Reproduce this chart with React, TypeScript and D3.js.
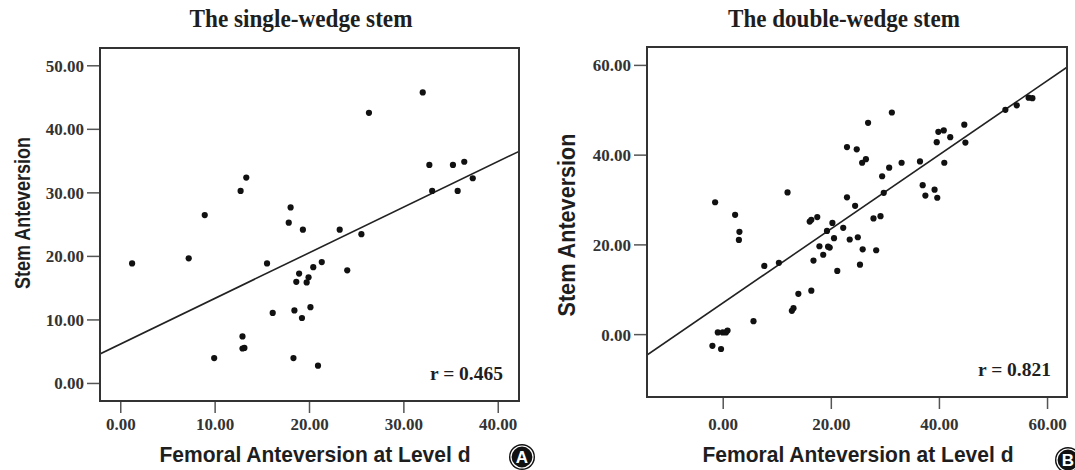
import React, { useEffect, useRef } from 'react';
import * as d3 from 'd3';

// single-wedge stem: femoral anteversion (x) vs stem anteversion (y)
const singleX = [1.2, 7.2, 8.9, 9.9, 12.7, 13.3, 12.9, 12.9, 13.1, 15.5, 16.1, 17.8, 18.0, 18.3, 18.4, 18.6, 18.9, 19.3, 19.2, 19.7, 19.9, 20.1, 20.4, 20.9, 21.3, 23.2, 24.0, 25.5, 26.3, 32.0, 32.7, 33.0, 35.2, 35.7, 36.4, 37.3];
const singleY = [18.9, 19.7, 26.5, 4.0, 30.3, 32.4, 7.4, 5.5, 5.6, 18.9, 11.1, 25.3, 27.7, 4.0, 11.5, 16.0, 17.3, 24.2, 10.3, 15.9, 16.7, 12.0, 18.3, 2.8, 19.1, 24.2, 17.8, 23.5, 42.6, 45.8, 34.4, 30.3, 34.4, 30.3, 34.9, 32.3];

// double-wedge stem
const doubleX = [-2.0, -0.4, -1.5, -1.0, -0.1, 0.5, 0.8, 2.2, 3.0, 2.9, 5.6, 7.6, 10.3, 11.9, 12.7, 13.0, 13.9, 16.0, 16.3, 16.3, 16.7, 17.4, 17.8, 18.5, 19.2, 19.4, 19.7, 20.2, 20.5, 21.1, 22.2, 22.9, 22.9, 23.4, 24.4, 24.7, 24.9, 25.3, 25.7, 26.4, 25.8, 26.8, 27.8, 28.3, 29.1, 29.4, 29.7, 30.7, 31.2, 33.0, 36.4, 36.9, 37.4, 39.1, 39.6, 39.5, 39.8, 40.8, 40.9, 42.0, 44.6, 44.8, 52.2, 54.3, 56.5, 57.2];
const doubleY = [-2.5, -3.2, 29.5, 0.5, 0.5, 0.5, 0.9, 26.7, 22.9, 21.1, 3.0, 15.3, 16.0, 31.7, 5.3, 5.9, 9.1, 25.2, 25.6, 9.8, 16.5, 26.2, 19.7, 17.8, 23.1, 19.6, 19.4, 24.9, 21.5, 14.2, 23.8, 41.8, 30.6, 21.2, 28.7, 41.3, 21.7, 15.6, 38.3, 39.1, 19.0, 47.2, 25.9, 18.8, 26.4, 35.3, 31.6, 37.2, 49.5, 38.3, 38.6, 33.3, 31.0, 32.3, 30.5, 42.9, 45.2, 45.5, 38.3, 44.0, 46.8, 42.8, 50.1, 51.1, 52.8, 52.7];

// fitted lines
const singleFit = [6.23, 0.718]; // intercept, slope
const doubleFit = [7.1, 0.8256];

const singleTicksX = [0, 10, 20, 30, 40];
const singleTicksY = [0, 10, 20, 30, 40, 50];
const doubleTicksX = [0, 20, 40, 60];
const doubleTicksY = [0, 20, 40, 60];

const titles = ['The single-wedge stem', 'The double-wedge stem'];
const rLabels = ['r = 0.465', 'r = 0.821'];
const xTitle = 'Femoral Anteversion at Level d';
const yTitle = 'Stem Anteversion';
const panelTags = ['A', 'B'];

const serif = '"Liberation Serif", "Times New Roman", serif';
const sans = '"Liberation Sans", Arial, sans-serif';
const ink = '#1e1e1e';

const panels = [
    {
        id: 'a', xs: singleX, ys: singleY, fit: singleFit,
        xDomain: [-2.2, 42.2], yDomain: [-2.76, 52.8],
        left: 100, right: 519, top: 48, bottom: 401,
        ticksX: singleTicksX, ticksY: singleTicksY,
        title: titles[0], titleX: 301, titleLen: 223, r: rLabels[0],
        yTitleX: 22, yTitleY: 213, yTitleSize: 22, yTitleLen: 152, xTitleX: 315,
        tag: panelTags[0], tagX: 522, tagY: 457,
    },
    {
        id: 'b', xs: doubleX, ys: doubleY, fit: doubleFit,
        xDomain: [-14.1, 63.6], yDomain: [-13.9, 64.1],
        left: 647, right: 1067, top: 47, bottom: 397,
        ticksX: doubleTicksX, ticksY: doubleTicksY,
        title: titles[1], titleX: 844, titleLen: 232, r: rLabels[1],
        yTitleX: 567, yTitleY: 225, yTitleSize: 23, yTitleLen: 183, xTitleX: 858,
        tag: panelTags[1], tagX: 1068, tagY: 460,
    },
];

const draw = (node) => {
    const svg = d3.select(node);
    svg.selectAll('*').remove();

    panels.forEach((p) => {
        const x = d3.scaleLinear().domain(p.xDomain).range([p.left, p.right]);
        const y = d3.scaleLinear().domain(p.yDomain).range([p.bottom, p.top]);
        const g = svg.append('g');

        g.append('clipPath').attr('id', 'clip-' + p.id)
            .append('rect')
            .attr('x', p.left).attr('y', p.top)
            .attr('width', p.right - p.left).attr('height', p.bottom - p.top);

        // title
        g.append('text')
            .attr('x', p.titleX).attr('y', 27)
            .attr('text-anchor', 'middle')
            .attr('font-family', serif).attr('font-weight', 'bold')
            .attr('font-size', 24.5).attr('fill', ink)
            .attr('textLength', p.titleLen).attr('lengthAdjust', 'spacingAndGlyphs')
            .text(p.title);

        // y axis ticks
        const yAxis = g.append('g');
        yAxis.selectAll('line').data(p.ticksY).enter().append('line')
            .attr('x1', p.left - 13).attr('x2', p.left)
            .attr('y1', d => y(d)).attr('y2', d => y(d))
            .attr('stroke', '#555').attr('stroke-width', 1.5);
        yAxis.selectAll('text').data(p.ticksY).enter().append('text')
            .attr('x', p.left - 16).attr('y', d => y(d))
            .attr('dy', '0.35em')
            .attr('text-anchor', 'end')
            .attr('font-family', serif).attr('font-weight', 'bold')
            .attr('font-size', 17).attr('fill', '#333')
            .text(d => d3.format('.2f')(d));

        // x axis ticks
        const xAxis = g.append('g');
        xAxis.selectAll('line').data(p.ticksX).enter().append('line')
            .attr('x1', d => x(d)).attr('x2', d => x(d))
            .attr('y1', p.bottom).attr('y2', p.bottom + 12)
            .attr('stroke', '#555').attr('stroke-width', 1.5);
        xAxis.selectAll('text').data(p.ticksX).enter().append('text')
            .attr('x', d => x(d)).attr('y', 430)
            .attr('text-anchor', 'middle')
            .attr('font-family', serif).attr('font-weight', 'bold')
            .attr('font-size', 17).attr('fill', '#333')
            .text(d => d3.format('.2f')(d));

        // axis titles
        g.append('text')
            .attr('transform', `translate(${p.yTitleX},${p.yTitleY}) rotate(-90)`)
            .attr('dy', '0.35em')
            .attr('text-anchor', 'middle')
            .attr('font-family', sans).attr('font-weight', 'bold')
            .attr('font-size', p.yTitleSize).attr('fill', ink)
            .attr('textLength', p.yTitleLen).attr('lengthAdjust', 'spacingAndGlyphs')
            .text(yTitle);
        g.append('text')
            .attr('x', p.xTitleX).attr('y', 462)
            .attr('text-anchor', 'middle')
            .attr('font-family', sans).attr('font-weight', 'bold')
            .attr('font-size', 22).attr('fill', ink)
            .attr('textLength', 311).attr('lengthAdjust', 'spacingAndGlyphs')
            .text(xTitle);

        // fit line
        const line = d3.line().x(d => x(d)).y(d => y(p.fit[0] + p.fit[1] * d));
        g.append('path')
            .attr('d', line(p.xDomain))
            .attr('clip-path', `url(#clip-${p.id})`)
            .attr('fill', 'none').attr('stroke', '#222').attr('stroke-width', 1.6);

        // points
        g.append('g').selectAll('circle')
            .data(p.xs.map((v, i) => [v, p.ys[i]]))
            .enter().append('circle')
            .attr('cx', d => x(d[0])).attr('cy', d => y(d[1]))
            .attr('r', 3.1).attr('fill', '#111');

        // frame
        g.append('rect')
            .attr('x', p.left).attr('y', p.top)
            .attr('width', p.right - p.left).attr('height', p.bottom - p.top)
            .attr('fill', 'none').attr('stroke', '#333').attr('stroke-width', 2);

        // r label
        g.append('text')
            .attr('x', p.right - 16).attr('y', p.bottom - 21)
            .attr('text-anchor', 'end')
            .attr('font-family', serif).attr('font-weight', 'bold')
            .attr('font-size', 19.5).attr('fill', ink)
            .text(p.r);

        // panel tag
        g.append('circle')
            .attr('cx', p.tagX).attr('cy', p.tagY).attr('r', 13)
            .attr('fill', '#111');
        g.append('circle')
            .attr('cx', p.tagX).attr('cy', p.tagY).attr('r', 11)
            .attr('fill', 'none').attr('stroke', '#fff').attr('stroke-width', 1.2);
        g.append('text')
            .attr('x', p.tagX).attr('y', p.tagY)
            .attr('dy', '0.36em')
            .attr('text-anchor', 'middle')
            .attr('font-family', sans).attr('font-weight', 'bold')
            .attr('font-size', 17).attr('fill', '#fff')
            .text(p.tag);
    });
};

export default function App() {
    const ref = useRef(null);

    useEffect(() => {
        draw(ref.current);
    }, []);

    return (
        <svg
            ref={ref}
            width={1075}
            height={470}
            style={{ position: 'absolute', left: 0, top: 0, background: '#fff' }}
        />
    );
}
